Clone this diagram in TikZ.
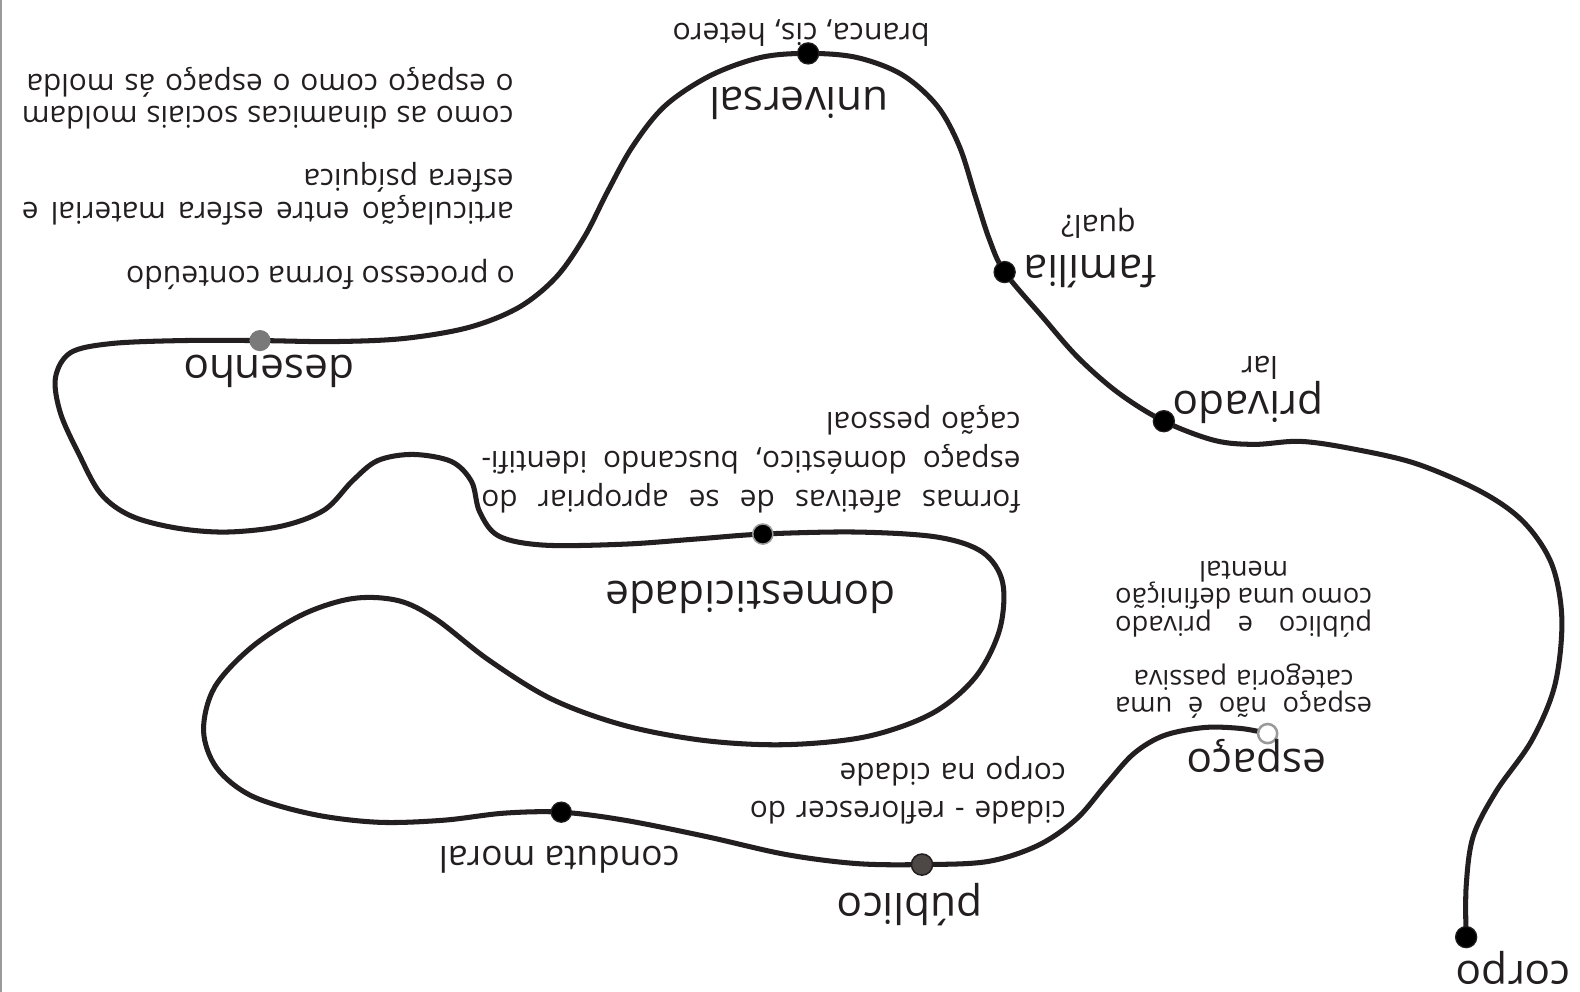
\documentclass[tikz,border=0pt]{standalone}
\usepackage{fontspec}
\setmainfont{Open Sans}
\definecolor{ink}{HTML}{231F20}
\definecolor{dgray}{HTML}{4D4845}
\definecolor{mgray}{HTML}{7A7A7A}
\definecolor{lgray}{HTML}{9A9A9A}
\newcommand{\jline}[2]{\leavevmode\hbox to #1{#2}}
\begin{document}
\begin{tikzpicture}[x=1pt,y=-1pt,
  curve/.style={draw=ink, line width=5pt, line cap=round, line join=round},
  dotk/.style={circle, fill=black, draw=ink, line width=1.2pt, minimum size=21pt, inner sep=0pt},
  dotg/.style={circle, fill=mgray, draw=none, minimum size=21pt, inner sep=0pt},
  dotd/.style={circle, fill=black, draw=lgray, line width=1.5pt, minimum size=20pt, inner sep=0pt},
  dotp/.style={circle, fill=dgray, draw=ink, line width=1.5pt, minimum size=21pt, inner sep=0pt},
  doto/.style={circle, fill=white, draw=lgray, line width=2.5pt, minimum size=19pt, inner sep=0pt},
  lab/.style={rotate=180, inner sep=0pt, anchor=base, text=ink},
  big/.style={lab, font=\fontsize{42}{48}\selectfont},
  med/.style={lab, font=\fontsize{35}{40}\selectfont},
  small/.style={lab, font=\fontsize{30}{33}\selectfont},
  para/.style={rotate=180, inner sep=0pt, anchor=base west, text=ink, align=left},
]
\useasboundingbox (0,0) rectangle (1568,984);
\fill[white] (0,0) rectangle (1568,984);
\draw[lgray, line width=2pt] (1,0) -- (1,984);

% dot positions
\coordinate (pcorpo) at (1455,930);
\coordinate (pprivado) at (1155,418);
\coordinate (pfamilia) at (997,270);
\coordinate (puniversal) at (802,53);
\coordinate (pdesenho) at (258,338);
\coordinate (pdomest) at (757,530);
\coordinate (pconduta) at (557,806);
\coordinate (ppublico) at (915,858);
\coordinate (pespaco) at (1258,728);

\draw[curve] plot[smooth, tension=0.55] coordinates {
  (pcorpo) (1455,880) (1462,830) (1485,785) (1520,735) (1543,680) (1550,615)
  (1540,560) (1512,518) (1470,488) (1405,460) (1340,445) (1290,438) (1245,441)
  (1205,437) (pprivado)
  (1110,390) (1070,355) (1035,315) (pfamilia)
  (982,238) (968,195) (952,145) (930,105) (895,74) (850,57) (puniversal)
  (755,57) (705,75) (660,105) (628,145) (603,190) (580,235) (552,275) (515,305)
  (465,325) (400,336) (330,339) (pdesenho)
  (180,338) (110,341) (70,350) (55,375) (60,410) (78,450) (100,490) (130,512)
  (175,524) (225,528) (280,522) (322,506) (350,477) (375,457) (410,451) (448,458)
  (468,478) (476,508) (495,532) (540,541) (620,540) (690,535) (pdomest)
  (850,528) (930,533) (975,548) (995,578) (992,625) (968,672) (925,708) (860,731)
  (780,739) (700,735) (620,720) (548,694) (485,655) (432,614) (395,596) (350,594)
  (300,610) (250,642) (213,682) (202,725) (215,762) (250,790) (310,808) (375,816)
  (440,814) (500,807) (pconduta)
  (620,814) (700,830) (780,848) (850,857) (ppublico)
  (980,855) (1030,839) (1068,813) (1098,778) (1125,748) (1155,730) (1195,722)
  (1232,723) (pespaco)
};

% dots
\node[dotk] (dcorpo) at (pcorpo) {};
\node[dotk] (dprivado) at (pprivado) {};
\node[dotk] (dfamilia) at (pfamilia) {};
\node[dotk] (duniversal) at (puniversal) {};
\node[dotg] (ddesenho) at (pdesenho) {};
\node[dotd] (ddomest) at (pdomest) {};
\node[dotk, minimum size=20pt] (dconduta) at (pconduta) {};
\node[dotp] (dpublico) at (ppublico) {};
\node[doto] (despaco) at (pespaco) {};

% big labels
\node[big] (tuniversal) at (793,87) {universal};
\node[big] (tfamilia) at (1082,254) {família};
\node[big] (tprivado) at (1239,389) {privado};
\node[big] (tdesenho) at (267,353) {desenho};
\node[big] (tdomest) at (745,577) {domesticidade};
\node[big] (tespaco) at (1247,744) {espaço};
\node[big] (tpublico) at (903,887) {público};
\node[big, text height=23pt] (tcorpo) at (1502,954) {corpo};
\node[med] (tconduta) at (555,840) {conduta moral};

% small labels
\node[small] (tbranca) at (795,23) {branca, cis, hetero};
\node[small] (tqual) at (1090,214) {qual?};
\node[small] (tlar) at (1250,354) {lar};
\node[small] (tprocesso) at (318,264) {o processo forma conteúdo};

% paragraphs
\node[para, text width=488pt, font=\fontsize{29.5}{32}\selectfont] (tcomo) at (510,106)
  {\jline{488pt}{como\hfill as\hfill dinamicas\hfill sociais\hfill moldam}\\o espaço como o espaço ás molda};
\node[para, text width=488pt, font=\fontsize{29.5}{33}\selectfont] (tartic) at (510,201)
  {\jline{488pt}{articulação\hfill entre\hfill esfera\hfill material\hfill e}\\esfera psíquica};
\node[para, text width=535pt, font=\fontsize{29.5}{39}\selectfont] (tformas) at (1013,487)
  {\jline{535pt}{formas\hfill afetivas\hfill de\hfill se\hfill apropriar\hfill do}\\\jline{535pt}{espaço\hfill doméstico,\hfill buscando\hfill identifi-}\\cação pessoal};
\node[para, text width=255pt, align=center, font=\fontsize{27}{27}\selectfont] (tpubpriv) at (1362,612)
  {\jline{255pt}{público\hfill e\hfill privado}\\\jline{255pt}{como\hfill uma\hfill definição}\\mental};
\node[para, text width=255pt, align=center, font=\fontsize{27}{27}\selectfont] (tnaoe) at (1362,692)
  {\jline{255pt}{espaço\hfill não\hfill é\hfill uma}\\categoria passiva};
\node[para, text width=320pt, font=\fontsize{29.5}{37}\selectfont] (tcidade) at (1058,795)
  {cidade - reflorescer do\\corpo na cidade};
\end{tikzpicture}
\end{document}
